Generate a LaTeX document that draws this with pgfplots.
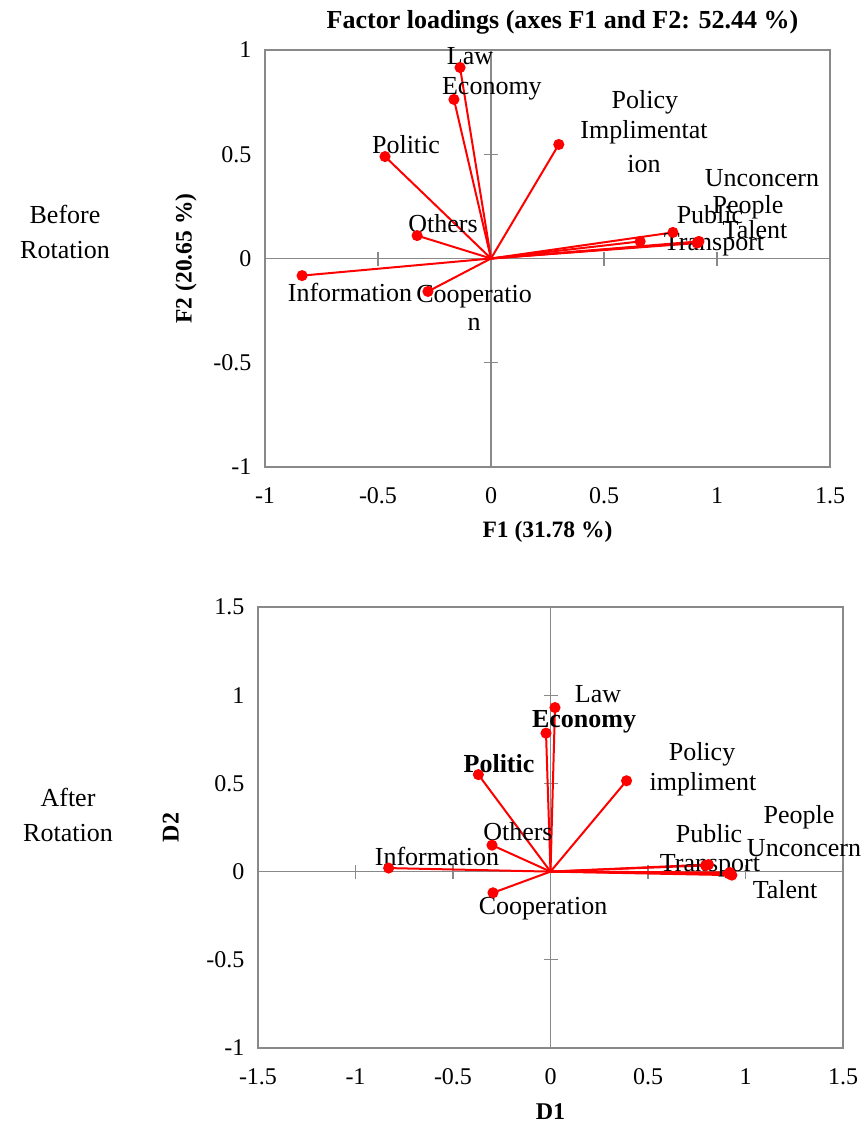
\documentclass[border=0pt]{standalone}
\usepackage{fontspec}
\setmainfont{Liberation Serif}
\usepackage{pgfplots}
\pgfplotsset{compat=1.18}
\definecolor{axgray}{HTML}{898989}
\newcommand{\lbl}{\fontsize{26}{35}\selectfont}
\newcommand{\tck}{\fontsize{24}{27}\selectfont}
\pgfplotsset{
  loadstyle/.style={
    scale only axis,
    axis line style={axgray, line width=1.3pt},
    tick style={draw=none},
    ticklabel style={font=\tck},
    /pgf/number format/assume math mode=true,
    clip=false,
  },
  vec/.style={red, line width=2pt, mark=*, mark size=4.5pt, mark indices={2}, mark options={fill=red, draw=red}},
}
\tikzset{xtk/.style={axgray, line width=1.3pt}}
\begin{document}
\begin{tikzpicture}
\useasboundingbox (0pt,0pt) rectangle (860pt,-1130pt);
% ---------------- Before rotation ----------------
\begin{axis}[loadstyle,
  at={(265pt,-50pt)}, anchor=north west, width=565pt, height=417pt,
  xmin=-1, xmax=1.5, ymin=-1, ymax=1,
  xtick={-1,-0.5,0,0.5,1,1.5}, ytick={-1,-0.5,0,0.5,1},
  xticklabel style={yshift=-17pt}, yticklabel style={xshift=-10pt},
  title={\textbf{Factor loadings (axes F1 and F2: 52.44 \%)}},
  title style={font=\fontsize{26}{29}\selectfont, yshift=6pt, xshift=15pt},
  xlabel={\textbf{F1 (31.78 \%)}}, ylabel={\textbf{F2 (20.65 \%)}},
  label style={font=\fontsize{23.5}{27}\selectfont},
  xlabel style={yshift=-10pt}, ylabel style={yshift=10pt},
]
\draw[xtk] (axis cs:-1,0) -- (axis cs:1.5,0);
\draw[xtk] (axis cs:0,-1) -- (axis cs:0,1);
\draw[xtk] (axis cs:-0.5,0) ++(0pt,-7pt) -- ++(0pt,14pt);
\draw[xtk] (axis cs:0.5,0) ++(0pt,-7pt) -- ++(0pt,14pt);
\draw[xtk] (axis cs:1,0) ++(0pt,-7pt) -- ++(0pt,14pt);
\draw[xtk] (axis cs:0,0.5) ++(-7pt,0pt) -- ++(14pt,0pt);
\draw[xtk] (axis cs:0,-0.5) ++(-7pt,0pt) -- ++(14pt,0pt);
\addplot[vec] coordinates {(0,0) (-0.137,0.916)}; % Law
\addplot[vec] coordinates {(0,0) (-0.164,0.763)}; % Economy
\addplot[vec] coordinates {(0,0) (0.300,0.547)}; % Policy
\addplot[vec] coordinates {(0,0) (-0.469,0.489)}; % Politic
\addplot[vec] coordinates {(0,0) (-0.327,0.110)}; % Others
\addplot[vec] coordinates {(0,0) (-0.836,-0.082)}; % Information
\addplot[vec] coordinates {(0,0) (-0.279,-0.158)}; % Cooperation
\addplot[vec] coordinates {(0,0) (0.805,0.125)}; % Public
\addplot[vec] coordinates {(0,0) (0.660,0.082)}; % Unconcern
\addplot[vec] coordinates {(0,0) (0.920,0.082)}; % Talent
\addplot[vec] coordinates {(0,0) (0.912,0.074)}; % Transport
\addplot[vec] coordinates {(0,0) (0.915,0.078)}; % People
\begin{scope}[every node/.style={font=\lbl, inner sep=0pt}]
\node at (axis cs:-0.093,0.969) {Law};
\node at (axis cs:0.004,0.815) {Economy};
\node at (axis cs:0.681,0.748) {Policy};
\node at (axis cs:0.677,0.604) {Implimentat};
\node at (axis cs:0.677,0.451) {ion};
\node at (axis cs:-0.376,0.547) {Politic};
\node at (axis cs:-0.212,0.168) {Others};
\node at (axis cs:-0.624,-0.163) {Information};
\node at (axis cs:-0.075,-0.182) {Cooperatio};
\node at (axis cs:-0.075,-0.317) {n};
\node at (axis cs:1.199,0.384) {Unconcern};
\node at (axis cs:1.137,0.245) {People};
\node at (axis cs:0.969,0.211) {Public};
\node at (axis cs:1.168,0.139) {Talent};
\node at (axis cs:0.987,0.067) {Transport};
\end{scope}
\end{axis}
% ---------------- After rotation ----------------
\begin{axis}[loadstyle,
  at={(258pt,-607pt)}, anchor=north west, width=585pt, height=441pt,
  xmin=-1.5, xmax=1.5, ymin=-1, ymax=1.5,
  xtick={-1.5,-1,-0.5,0,0.5,1,1.5}, ytick={-1,-0.5,0,0.5,1,1.5},
  xticklabel style={yshift=-17pt}, yticklabel style={xshift=-10pt},
  xlabel={\textbf{D1}}, ylabel={\textbf{D2}},
  label style={font=\fontsize{24}{27}\selectfont},
  xlabel style={yshift=-12pt}, ylabel style={yshift=21pt},
]
\draw[xtk] (axis cs:-1.5,0) -- (axis cs:1.5,0);
\draw[xtk] (axis cs:0,-1) -- (axis cs:0,1.5);
\draw[xtk] (axis cs:-1,0) ++(0pt,-7pt) -- ++(0pt,14pt);
\draw[xtk] (axis cs:-0.5,0) ++(0pt,-7pt) -- ++(0pt,14pt);
\draw[xtk] (axis cs:0.5,0) ++(0pt,-7pt) -- ++(0pt,14pt);
\draw[xtk] (axis cs:1,0) ++(0pt,-7pt) -- ++(0pt,14pt);
\draw[xtk] (axis cs:0,1) ++(-7pt,0pt) -- ++(14pt,0pt);
\draw[xtk] (axis cs:0,0.5) ++(-7pt,0pt) -- ++(14pt,0pt);
\draw[xtk] (axis cs:0,-0.5) ++(-7pt,0pt) -- ++(14pt,0pt);
\addplot[vec] coordinates {(0,0) (0.023,0.930)}; % Law
\addplot[vec] coordinates {(0,0) (-0.023,0.785)}; % Economy
\addplot[vec] coordinates {(0,0) (0.390,0.515)}; % Policy
\addplot[vec] coordinates {(0,0) (-0.370,0.550)}; % Politic
\addplot[vec] coordinates {(0,0) (-0.300,0.150)}; % Others
\addplot[vec] coordinates {(0,0) (-0.830,0.020)}; % Information
\addplot[vec] coordinates {(0,0) (-0.295,-0.120)}; % Cooperation
\addplot[vec] coordinates {(0,0) (0.810,0.040)}; % Public
\addplot[vec] coordinates {(0,0) (0.795,0.035)}; % Transport
\addplot[vec] coordinates {(0,0) (0.915,-0.012)}; % Unconcern
\addplot[vec] coordinates {(0,0) (0.930,-0.020)}; % Talent
\addplot[vec] coordinates {(0,0) (0.920,-0.005)}; % People
\begin{scope}[every node/.style={font=\lbl, inner sep=0pt}]
\node at (axis cs:0.244,1.007) {Law};
\node at (axis cs:0.172,0.849) {\textbf{Economy}};
\node at (axis cs:0.777,0.667) {Policy};
\node at (axis cs:0.782,0.497) {impliment};
\node at (axis cs:-0.264,0.610) {\textbf{Politic}};
\node at (axis cs:-0.167,0.225) {Others};
\node at (axis cs:-0.582,0.083) {Information};
\node at (axis cs:-0.038,-0.212) {Cooperation};
\node at (axis cs:1.274,0.309) {People};
\node at (axis cs:0.813,0.214) {Public};
\node at (axis cs:1.300,0.134) {Unconcern};
\node at (axis cs:0.818,0.032) {Transport};
\node at (axis cs:1.203,-0.104) {Talent};
\end{scope}
\end{axis}
% row labels
\node[font=\lbl, align=center] at (65pt,-232pt) {Before\\Rotation};
\node[font=\lbl, align=center] at (68pt,-815pt) {After\\Rotation};
\end{tikzpicture}
\end{document}
